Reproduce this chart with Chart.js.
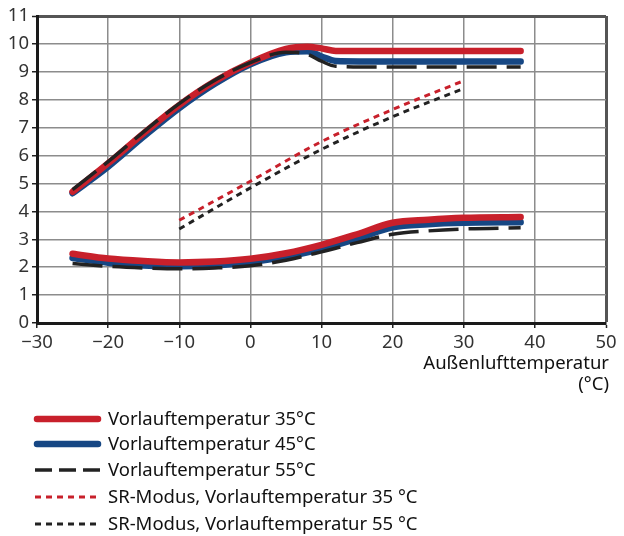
<!DOCTYPE html>
<html>
<head>
<meta charset="utf-8">
<script src="https://cdn.jsdelivr.net/npm/chart.js@4/dist/chart.umd.min.js"></script>
<style>
html,body{margin:0;padding:0;background:#fff;}
#wrap{position:relative;width:624px;height:536px;}
</style>
</head>
<body>
<div id="wrap"><canvas id="c" width="624" height="536"></canvas></div>
<script>
// ---- data ----
const xUpper = [-25, -20, -15, -10, -5, 0, 5, 8, 10, 12, 20, 30, 38];
const red35Upper = [4.7, 5.72, 6.8, 7.81, 8.66, 9.33, 9.82, 9.9, 9.84, 9.75, 9.75, 9.75, 9.75];
const blue45Upper = [4.65, 5.6, 6.68, 7.7, 8.57, 9.27, 9.7, 9.74, 9.55, 9.39, 9.37, 9.37, 9.37];
const black55Upper = [4.78, 5.78, 6.85, 7.86, 8.7, 9.33, 9.7, 9.63, 9.38, 9.2, 9.17, 9.17, 9.17];

const xLower = [-25, -20, -15, -10, -5, 0, 5, 10, 15, 20, 25, 30, 38];
const red35Lower = [2.48, 2.31, 2.22, 2.17, 2.2, 2.3, 2.5, 2.8, 3.18, 3.59, 3.7, 3.77, 3.8];
const blue45Lower = [2.33, 2.16, 2.06, 2.03, 2.07, 2.18, 2.38, 2.65, 3.02, 3.43, 3.54, 3.59, 3.61];
const black55Lower = [2.13, 2.03, 1.97, 1.94, 1.97, 2.05, 2.25, 2.55, 2.88, 3.18, 3.3, 3.37, 3.41];

const xSR = [-10, 0, 10, 20, 30];
const srRed35 = [3.68, 5.08, 6.5, 7.65, 8.68];
const srBlack55 = [3.37, 4.84, 6.22, 7.39, 8.4];

const xTicks = [-30, -20, -10, 0, 10, 20, 30, 40, 50];
const yTicks = [0, 1, 2, 3, 4, 5, 6, 7, 8, 9, 10, 11];

const legendLabels = [
  'Vorlauftemperatur 35°C',
  'Vorlauftemperatur 45°C',
  'Vorlauftemperatur 55°C',
  'SR-Modus, Vorlauftemperatur 35 °C',
  'SR-Modus, Vorlauftemperatur 55 °C'
];
const xTitle = ['Außenlufttemperatur', '(°C)'];

// ---- styles ----
const RED = '#c8202b';
const BLUE = '#164784';
const BLACK = '#222222';
const FONT = '"Noto Sans", "DejaVu Sans", sans-serif';

function pts(xs, ys) { return xs.map((x, i) => ({ x: x, y: ys[i] })); }

const solid = (data, color, order) => ({
  data, borderColor: color, borderWidth: 6.5, borderCapStyle: 'round',
  pointRadius: 0, fill: false, cubicInterpolationMode: 'monotone', order
});
const dashed = (data, color, order) => ({
  data, borderColor: color, borderWidth: 3.5, borderDash: [30, 10],
  pointRadius: 0, fill: false, cubicInterpolationMode: 'monotone', order
});
const dotted = (data, color, order) => ({
  data, borderColor: color, borderWidth: 3, borderDash: [6, 5],
  pointRadius: 0, fill: false, cubicInterpolationMode: 'monotone', order
});

const datasets = [
  solid(pts(xUpper, blue45Upper), BLUE, 4),
  solid(pts(xLower, blue45Lower), BLUE, 4),
  solid(pts(xUpper, red35Upper), RED, 3),
  solid(pts(xLower, red35Lower), RED, 3),
  dashed(pts(xUpper, black55Upper), BLACK, 2),
  dashed(pts(xLower, black55Lower), BLACK, 2),
  dotted(pts(xSR, srRed35), RED, 1),
  dotted(pts(xSR, srBlack55), BLACK, 1)
];

const extras = {
  id: 'extras',
  afterDraw(chart) {
    const ctx = chart.ctx;
    const area = chart.chartArea;
    ctx.save();
    // x title
    ctx.fillStyle = '#111';
    ctx.font = '18.5px ' + FONT;
    ctx.textAlign = 'right';
    ctx.textBaseline = 'alphabetic';
    ctx.fillText(xTitle[0], area.right + 3, 369);
    ctx.fillText(xTitle[1], area.right + 3, 390);
    // legend
    const rows = [419, 444, 470, 497, 524];
    const styles = [
      { c: RED, w: 6.5, d: [], cap: 'round' },
      { c: BLUE, w: 6.5, d: [], cap: 'round' },
      { c: BLACK, w: 3.5, d: [17, 7], cap: 'butt' },
      { c: RED, w: 3, d: [6, 5], cap: 'butt' },
      { c: BLACK, w: 3, d: [6, 5], cap: 'butt' }
    ];
    ctx.textAlign = 'left';
    ctx.textBaseline = 'middle';
    rows.forEach((y, i) => {
      const s = styles[i];
      ctx.beginPath();
      ctx.strokeStyle = s.c;
      ctx.lineWidth = s.w;
      ctx.lineCap = s.cap;
      ctx.setLineDash(s.d);
      ctx.moveTo(s.cap === 'round' ? 37 : 35, y);
      ctx.lineTo(s.cap === 'round' ? 98 : 100, y);
      ctx.stroke();
      ctx.setLineDash([]);
      ctx.fillStyle = '#111';
      ctx.fillText(legendLabels[i], 108, y + 1);
    });
    ctx.restore();
  }
};

new Chart(document.getElementById('c'), {
  type: 'line',
  data: { datasets },
  options: {
    responsive: false,
    animation: false,
    layout: { padding: { left: 0, top: 16, right: 18, bottom: 183 } },
    plugins: { legend: { display: false }, tooltip: { enabled: false } },
    scales: {
      x: {
        type: 'linear', min: -30, max: 50,
        afterBuildTicks(scale) { scale.ticks = xTicks.map(v => ({ value: v })); },
        afterFit(scale) { scale.height = 30; },
        ticks: {
          color: '#333', padding: 4,
          font: { family: FONT, size: 18.5 },
          callback: v => String(v).replace('-', '\u2212')
        },
        grid: {
          color: ctx => (ctx.tick && ctx.tick.value === 50) ? '#555' : '#8c8c8c',
          lineWidth: ctx => (ctx.tick && ctx.tick.value === 50) ? 3 : 1.5,
          tickLength: 5, tickColor: '#222', tickWidth: 1.5
        },
        border: { color: '#1a1a1a', width: 3 }
      },
      y: {
        min: 0, max: 11,
        afterBuildTicks(scale) { scale.ticks = yTicks.map(v => ({ value: v })); },
        afterFit(scale) { scale.width = 37; },
        ticks: {
          color: '#333', padding: 3,
          font: { family: FONT, size: 18.5 }
        },
        grid: {
          color: ctx => (ctx.tick && ctx.tick.value === 11) ? '#555' : '#8c8c8c',
          lineWidth: ctx => (ctx.tick && ctx.tick.value === 11) ? 3 : 1.5,
          tickLength: 5, tickColor: '#222', tickWidth: 1.5
        },
        border: { color: '#1a1a1a', width: 3 }
      }
    }
  },
  plugins: [extras]
});
</script>
</body>
</html>
